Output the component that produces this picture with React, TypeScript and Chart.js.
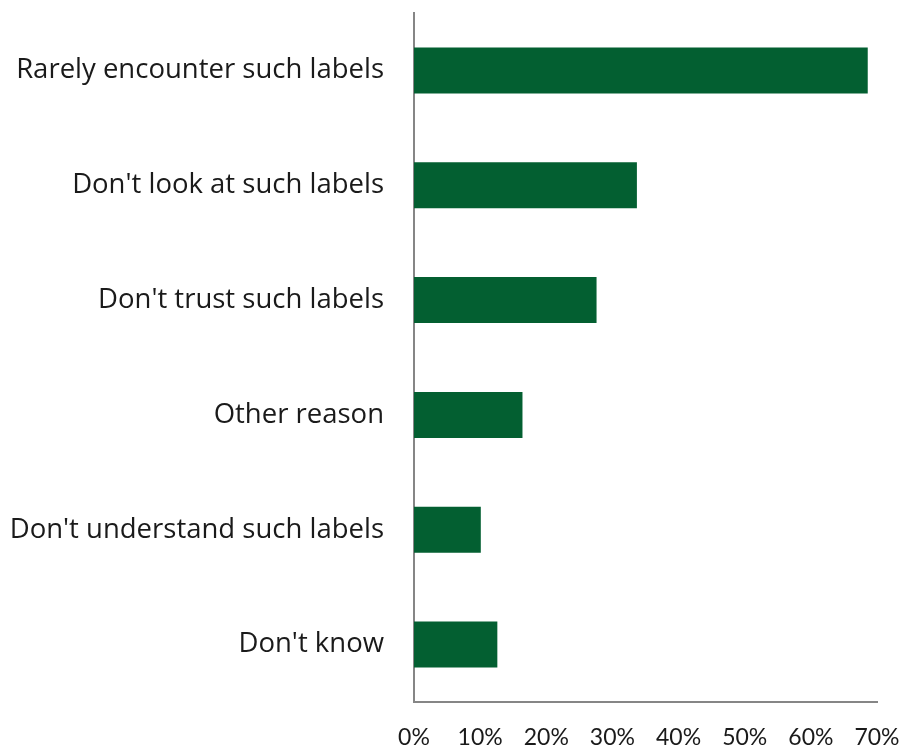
import React, { useEffect, useRef } from "react";
import { Chart, registerables } from "chart.js";

Chart.register(...registerables);

const categories = [
  "Rarely encounter such labels",
  "Don't look at such labels",
  "Don't trust such labels",
  "Other reason",
  "Don't understand such labels",
  "Don't know",
];
const values = [68.6, 33.7, 27.6, 16.4, 10.1, 12.6];
const xTicks = [0, 10, 20, 30, 40, 50, 60, 70];

export default function App() {
  const ref = useRef<HTMLCanvasElement | null>(null);
  useEffect(() => {
    if (!ref.current) return;
    const chart = new Chart(ref.current, {
      type: "bar",
      data: {
        labels: categories,
        datasets: [
          {
            data: values,
            backgroundColor: "#035f31",
            borderWidth: 0,
            categoryPercentage: 1,
            barPercentage: 0.4,
          },
        ],
      },
      options: {
        indexAxis: "y",
        animation: false,
        responsive: false,
        maintainAspectRatio: false,
        layout: { padding: { left: 0, right: 43, top: 13, bottom: 0 } },
        plugins: { legend: { display: false }, tooltip: { enabled: false } },
        scales: {
          x: {
            min: 0,
            max: 70,
            afterBuildTicks: (axis: any) => {
              axis.ticks = xTicks.map((v) => ({ value: v }));
            },
            afterFit: (axis: any) => {
              axis.height = 47;
              axis.paddingLeft = 0;
              axis.paddingRight = 0;
            },
            grid: { display: false, drawTicks: false },
            border: { display: true, color: "#868686", width: 2 },
            ticks: {
              padding: 22,
              color: "#1a1a1a",
              font: { family: "Lato", size: 23 },
              callback: (v: any) => v + "%",
              maxRotation: 0,
              autoSkip: false,
            },
          },
          y: {
            afterFit: (axis: any) => {
              axis.width = 414;
              axis.paddingTop = 0;
              axis.paddingBottom = 0;
            },
            grid: { display: false, drawTicks: false },
            border: { display: true, color: "#868686", width: 2 },
            ticks: {
              padding: 30,
              color: "#1a1a1a",
              font: { family: "Open Sans", size: 27.5 },
              autoSkip: false,
            },
          },
        },
      },
    });
    return () => chart.destroy();
  }, []);
  return (
    <div style={{ position: "absolute", left: 0, top: 0, width: 920, height: 749 }}>
      <canvas ref={ref} width={920} height={749} />
    </div>
  );
}
